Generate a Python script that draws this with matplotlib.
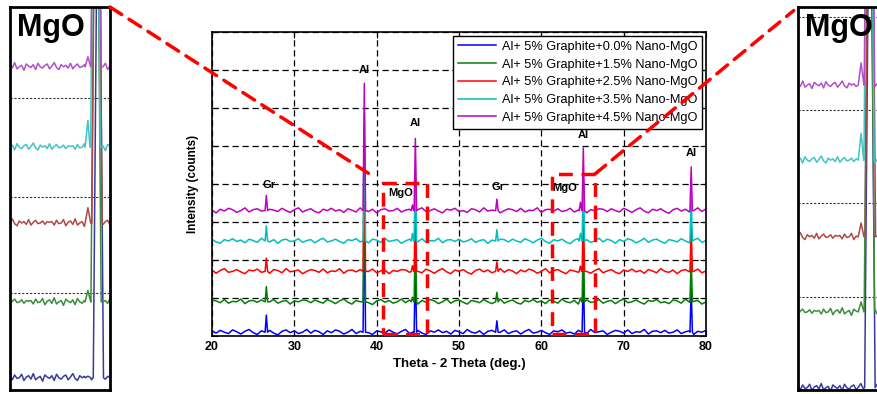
import numpy as np
import matplotlib.pyplot as plt
from matplotlib.patches import Rectangle, ConnectionPatch

plt.rcParams['font.family'] = ['Liberation Sans', 'DejaVu Sans']

series_labels = ['Al+ 5% Graphite+0.0% Nano-MgO',
                 'Al+ 5% Graphite+1.5% Nano-MgO',
                 'Al+ 5% Graphite+2.5% Nano-MgO',
                 'Al+ 5% Graphite+3.5% Nano-MgO',
                 'Al+ 5% Graphite+4.5% Nano-MgO']
series_colors = ['#0000ff', '#008000', '#ff0000', '#00bfbf', '#bf00bf']
inset_colors = ['#3a3a9a', '#3c8c3c', '#b04848', '#40c4c4', '#b050c8']
baselines = [0.1, 0.9, 1.7, 2.5, 3.3]

# peaks (2 theta) and heights above each baseline
peak_pos = [26.6, 38.5, 44.35, 44.7, 54.6, 64.75, 65.1, 78.2]
peak_heights = [
    [0.45, 3.35, 0.00, 1.9, 0.30, 0.00, 1.65, 1.15],
    [0.40, 3.35, 0.12, 1.9, 0.25, 0.10, 1.65, 1.15],
    [0.35, 3.35, 0.15, 1.9, 0.25, 0.14, 1.65, 1.15],
    [0.40, 3.35, 0.20, 1.9, 0.30, 0.20, 1.65, 1.15],
    [0.40, 3.35, 0.15, 1.9, 0.30, 0.22, 1.65, 1.15],
]

# baseline noise, hundredths
noise = [3, -2, 4, 0, -3, 5, 1, -4, 2, 6, -1, -5, 3, 0, 4, -2, -6, 2, 5, -1,
         3, -3, 0, 6, -2, 4, 1, -5, 3, -1, 5, 2, -4, 0, 6, -3, 2, 4, -1, -5,
         3, 1, -2, 5, 0, -4, 2, 6, -3, 1, 4, -2, -5, 3, 0, 5, -1, 2, -4, 4,
         1, -3, 6, 0, -2, 3, -5, 2, 4, -1, 0, 5, -3, 1, 3, -4, 2, 6, -2, 0,
         4, -1, -5, 3, 1, 5, -2, 0, -4, 4, 2, -3, 6, -1, 1, 3, -5, 0, 4, 2,
         -2, 5, -3, 1, 0, 6, -4, 2, 3, -1, 4, -2, 0, 5, -3, 1, 3, -5, 2, 0, 4]
noise_shift = [0, 23, 47, 71, 95]

phase_labels = ['Al', 'Al', 'Al', 'Al', 'Gr', 'Gr', 'MgO', 'MgO']
label_x = [38.5, 44.7, 65.1, 78.2, 26.9, 54.7, 42.9, 62.8]
label_y = [7.0, 5.6, 5.29, 4.82, 3.97, 3.92, 3.76, 3.89]

zoom_x0 = [40.8, 61.3]
zoom_x1 = [46.1, 66.5]
zoom_top = [4.03, 4.26]
zoom_bottom = 0.05

# insets
inset_noise = [2, -3, 4, -1, 0, 5, -4, 1, 3, -2, 6, -3, 0, 2, -5, 4, 1, -1, 3, -4,
               5, 0, -2, 2, 4, -3, 1, 6, -1, -4, 3, 0, 2, -2, 5, -3, 1, 4, -1, 0,
               3, -2, 2, 1]
left_range = (41.0, 45.3)
left_bump = 44.35
left_main = [44.80, 44.70, 44.74, 44.66, 44.70]
left_bump_h = [0.02, 0.15, 0.20, 0.35, 0.13]
left_base = [0.16, 1.15, 2.18, 3.17, 4.22]
left_dots = [1.27, 2.52, 3.81]

right_range = (62.1, 66.3)
right_bump = 64.75
right_main = [65.12, 65.10, 65.14, 65.08, 65.10]
right_bump_h = [0.0, 0.13, 0.18, 0.35, 0.29]
right_base = [0.03, 1.02, 2.0, 3.0, 3.98]
right_dots = [1.21, 2.44, 3.66, 4.87]


def trace(x0, x1, nvals, shift, base, pos, heights, widths, scale):
    xs = np.linspace(x0, x1, len(nvals))
    ys = base + np.roll(np.array(nvals, float), shift) * scale
    keep = np.ones(len(xs), bool)
    px, py = [], []
    for p, h, w in zip(pos, heights, widths):
        if h <= 0:
            continue
        keep &= np.abs(xs - p) > w
        px += [p - w, p, p + w]
        py += [base, base + h, base]
    allx = np.concatenate([xs[keep], px])
    ally = np.concatenate([ys[keep], py])
    o = np.argsort(allx, kind='stable')
    return allx[o], ally[o]


fig = plt.figure(figsize=(8.78, 3.94), dpi=100)
ax = fig.add_axes([212/878, 1 - 336/394, 494/878, 304/394])

for i in range(5):
    x, y = trace(20, 80, noise, noise_shift[i], baselines[i], peak_pos,
                 peak_heights[i], [0.15] * len(peak_pos), 0.012)
    ax.plot(x, y, color=series_colors[i], lw=1.1, label=series_labels[i])

for t, lx, ly in zip(phase_labels, label_x, label_y):
    ax.text(lx, ly, t, ha='center', va='center', fontsize=8, fontweight='bold')

for x0, x1, top in zip(zoom_x0, zoom_x1, zoom_top):
    ax.add_patch(Rectangle((x0, zoom_bottom), x1 - x0, top - zoom_bottom, fill=False,
                           edgecolor='red', lw=2.5, ls=(0, (4, 2.5)), zorder=6))

ax.set_xlim(20, 80)
ax.set_ylim(0, 8)
ax.set_xticks(range(20, 81, 10))
ax.set_yticks(range(0, 9))
ax.set_yticklabels([])
ax.grid(True, ls=(0, (5, 3)), color='black', lw=0.9)
ax.tick_params(direction='in', top=True, right=True, length=4, labelsize=9)
for lab in ax.get_xticklabels():
    lab.set_fontweight('bold')
for s in ax.spines.values():
    s.set_linewidth(1.2)
ax.set_xlabel('Theta - 2 Theta (deg.)', fontsize=9.5, fontweight='bold', labelpad=4)
ax.set_ylabel('Intensity (counts)', fontsize=8.5, fontweight='bold', labelpad=6)
leg = ax.legend(loc='upper right', fontsize=9.2, fancybox=False, edgecolor='black',
                framealpha=1, handlelength=3.0, borderaxespad=0.3, labelspacing=0.45,
                handletextpad=0.4, borderpad=0.4)
leg.get_frame().set_linewidth(1.0)
leg.set_zorder(10)


def make_inset(rect, xr, main_pos, bump, bump_h, bases, dots):
    a = fig.add_axes(rect)
    for d in dots:
        a.axhline(d, color='#333333', lw=0.8, ls=(0, (2, 1.5)))
    for i in range(5):
        x, y = trace(xr[0], xr[1], inset_noise, i * 9, bases[i], [bump, main_pos[i]],
                     [bump_h[i], 8.0], [0.12, 0.22], 0.009)
        a.plot(x, y, color=inset_colors[i], lw=1.1)
    a.set_xlim(*xr)
    a.set_ylim(0, 5)
    a.set_xticks([])
    a.set_yticks([])
    for s in a.spines.values():
        s.set_linewidth(2)
    a.text(0.07, 0.985, 'MgO', transform=a.transAxes, ha='left', va='top',
           fontsize=22, fontweight='bold', zorder=5)
    return a


ax_l = make_inset([10/878, 4/394, 100/878, 383/394], left_range, left_main,
                  left_bump, left_bump_h, left_base, left_dots)
ax_r = make_inset([798/878, 4/394, 100/878, 383/394], right_range, right_main,
                  right_bump, right_bump_h, right_base, right_dots)

con1 = ConnectionPatch(xyA=(1, 1), coordsA=ax_l.transAxes,
                       xyB=(zoom_x0[0], zoom_top[0]), coordsB=ax.transData,
                       color='red', lw=2.5, ls=(0, (4, 2.5)), shrinkB=9)
con2 = ConnectionPatch(xyA=(zoom_x1[1], zoom_top[1]), coordsA=ax.transData,
                       xyB=(0, 1), coordsB=ax_r.transAxes,
                       color='red', lw=2.5, ls=(0, (4, 2.5)), shrinkB=4)
fig.add_artist(con1)
fig.add_artist(con2)

fig.savefig('out.png', dpi=100)
